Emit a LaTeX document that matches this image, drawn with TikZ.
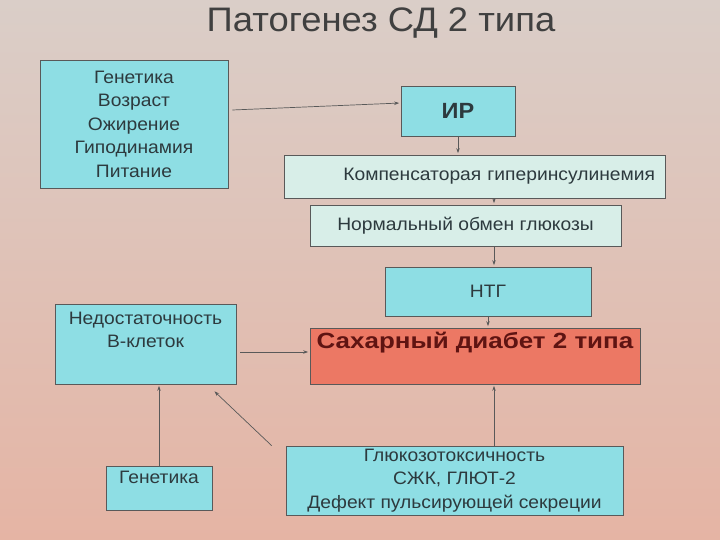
\documentclass[tikz,border=0pt]{standalone}
\usepackage{fontspec}
\setmainfont[FakeStretch=1.07]{Liberation Sans}
\usetikzlibrary{arrows.meta,positioning}

\definecolor{bgtop}{RGB}{218,206,200}
\definecolor{bgbot}{RGB}{229,180,164}
\definecolor{cyanf}{RGB}{142,222,228}
\definecolor{palef}{RGB}{216,238,232}
\definecolor{redf}{RGB}{236,120,100}
\definecolor{txt}{RGB}{45,58,62}
\definecolor{redtxt}{RGB}{95,20,18}

\tikzset{
  box/.style={draw=black!65, line width=0.7pt, text=txt, align=center, inner sep=0pt,
    font=\fontsize{18}{23.5}\selectfont},
  cyanbox/.style={box, fill=cyanf},
  palebox/.style={box, fill=palef},
  redbox/.style={box, fill=redf},
  inner/.style={text=txt, align=center, inner sep=0pt, font=\fontsize{18}{23.5}\selectfont},
  arr/.style={-{Stealth[length=5pt,width=3.5pt]}, line width=0.7pt, draw=black!65, shorten >=1.5pt},
}

\begin{document}
\begin{tikzpicture}[x=1pt, y=-1pt]
    \fill[top color=bgtop, bottom color=bgbot] (0,0) rectangle (720,540);
    \useasboundingbox (0,0) rectangle (720,540);

    \node[text=black!75, font=\fontsize{34}{40}\selectfont] (title) at (381,23) {Патогенез СД 2 типа};

    \node[cyanbox, minimum width=188pt, minimum height=128pt] (risk) at (134,124)
      {Генетика\\Возраст\\Ожирение\\Гиподинамия\\Питание};
    \node[cyanbox, minimum width=114pt, minimum height=50pt, font=\fontsize{22}{26}\selectfont\bfseries] (ir) at (458,111) {ИР};
    \node[palebox, minimum width=381pt, minimum height=43pt, inner xsep=10pt, text width=361pt, align=right] (comp) at (474.5,176.5)
      {Компенсаторая гиперинсулинемия};
    \node[palebox, minimum width=311pt, minimum height=41pt] (norm) at (465.5,225.5) {Нормальный обмен глюкозы};
    \node[cyanbox, minimum width=206pt, minimum height=49pt] (ntg) at (488,291.5) {НТГ};

    \node[redbox, minimum width=330pt, minimum height=56pt] (dm) at (475,356) {};
    \node[text=redtxt, inner sep=0pt, font=\fontsize{22}{26}\selectfont\bfseries\addfontfeatures{FakeStretch=1.18}, below=4pt of dm.north] (dmtext) {Сахарный диабет 2 типа};

    \node[cyanbox, minimum width=181pt, minimum height=80pt] (beta) at (145.5,344) {};
    \node[inner, below=8pt of beta.north] (betatext) {Недостаточность\\В-клеток};

    \node[cyanbox, minimum width=106pt, minimum height=44pt] (gen) at (159,488) {};
    \node[inner, below=5pt of gen.north] (gentext) {Генетика};

    \node[cyanbox, minimum width=337pt, minimum height=69pt] (glu) at (454.5,480.5)
      {Глюкозотоксичность\\СЖК, ГЛЮТ-2\\Дефект пульсирующей секреции};

    \coordinate (axis) at (494,0);

    \draw[arr] ([xshift=4pt,yshift=14pt]risk.east) -- ([yshift=8pt]ir.west);
    \draw[arr] (ir.south) -- (ir.south |- comp.north);
    \draw[arr] (comp.south -| axis) -- (norm.north -| axis);
    \draw[arr] (norm.south -| axis) -- (ntg.north -| axis);
    \draw[arr] (ntg.south) -- (ntg.south |- dm.north);
    \draw[arr] ([xshift=4pt,yshift=-8pt]beta.east) -- ([yshift=-8pt]beta.east -| dm.west);
    \draw[arr] (glu.north -| axis) -- (dm.south -| axis);
    \draw[arr] (gen.north) -- (gen.north |- beta.south);
    \draw[arr] ([xshift=-14pt]glu.north west) -- ([xshift=-23pt,yshift=-6pt]beta.south east);
\end{tikzpicture}
\end{document}
